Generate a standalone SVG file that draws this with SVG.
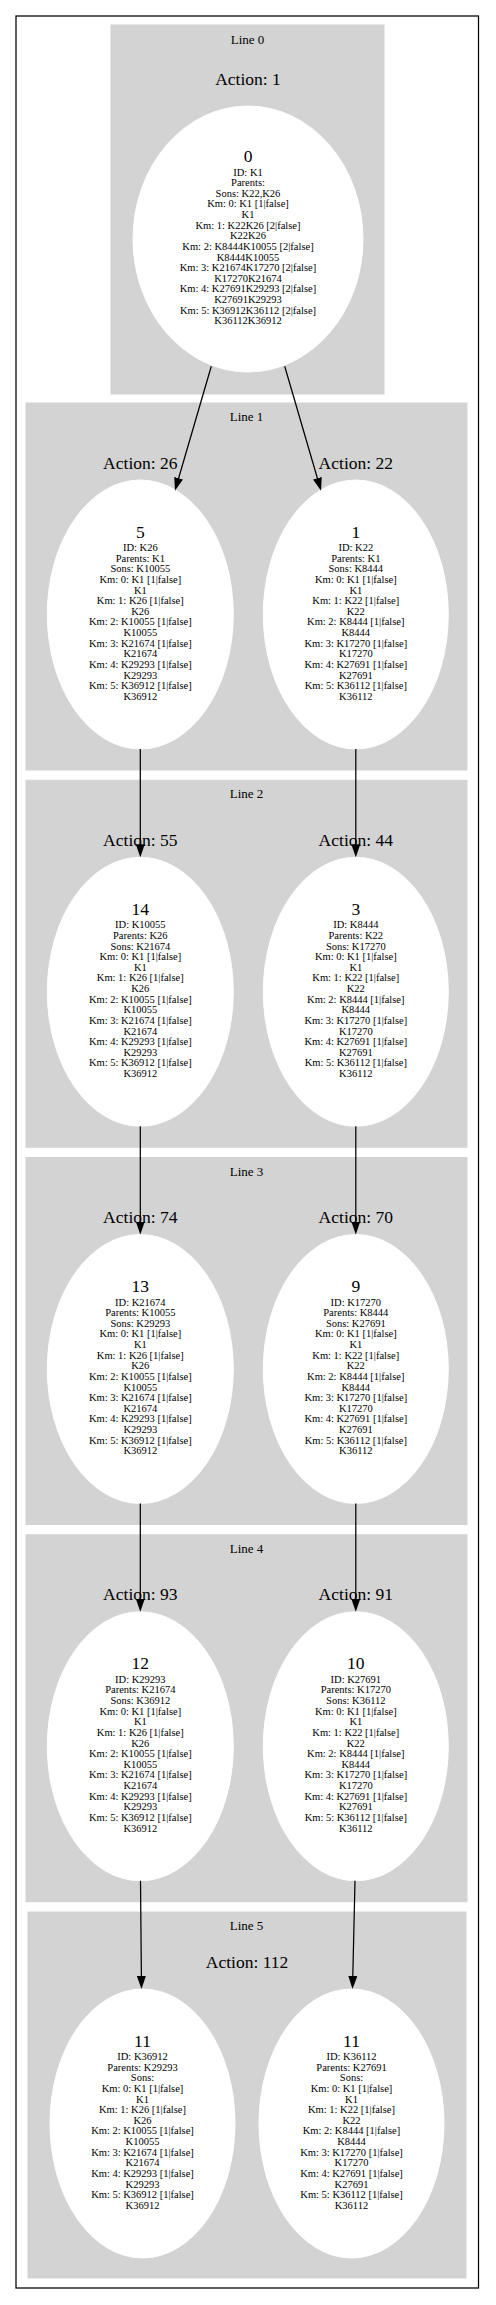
<svg xmlns="http://www.w3.org/2000/svg" width="496" height="2305" viewBox="0 0 496 2305">
<style>
.bg{fill:#fff}
.outer{fill:none;stroke:#000;stroke-width:1.25}
.cl{fill:#d3d3d3;stroke:#d3d3d3}
.nd{fill:#fff;stroke:#fff}
text{font-family:"Liberation Serif","Times New Roman",serif;text-anchor:middle;fill:#000}
.lbl{font-size:13px}
.act{font-size:17.5px}
.num{font-size:17.5px}
.s{font-size:10.5px}
.edge{fill:none;stroke:#000;stroke-width:1.25}
</style>
<defs>
<marker id="ah" markerUnits="userSpaceOnUse" markerWidth="13" markerHeight="9" refX="0" refY="4.5" orient="auto" viewBox="0 0 13 9"><path d="M0,0 L13,4.5 L0,9 z" fill="#000"/></marker>
</defs>
<rect class="bg" x="0" y="0" width="496" height="2305"/>
<rect class="outer" x="16" y="16" width="462.5" height="2272"/>

<g id="cluster_line0">
<rect class="cl" x="111" y="25" width="273" height="369"/>
<text class="lbl" x="247.5" y="43.5">Line 0</text>
<text class="act" x="248" y="84.7">Action: 1</text>
</g>
<g id="cluster_line1">
<rect class="cl" x="26" y="403" width="441" height="367"/>
<text class="lbl" x="246.5" y="421">Line 1</text>
<text class="act" x="140.3" y="468.5">Action: 26</text>
<text class="act" x="355.8" y="468.5">Action: 22</text>
</g>
<g id="cluster_line2">
<rect class="cl" x="26" y="780.25" width="441" height="367"/>
<text class="lbl" x="246.5" y="798.25">Line 2</text>
<text class="act" x="140.3" y="845.75">Action: 55</text>
<text class="act" x="355.8" y="845.75">Action: 44</text>
</g>
<g id="cluster_line3">
<rect class="cl" x="26" y="1157.5" width="441" height="367"/>
<text class="lbl" x="246.5" y="1175.5">Line 3</text>
<text class="act" x="140.3" y="1223">Action: 74</text>
<text class="act" x="355.8" y="1223">Action: 70</text>
</g>
<g id="cluster_line4">
<rect class="cl" x="26" y="1534.75" width="441" height="367"/>
<text class="lbl" x="246.5" y="1552.75">Line 4</text>
<text class="act" x="140.3" y="1600.25">Action: 93</text>
<text class="act" x="355.8" y="1600.25">Action: 91</text>
</g>
<g id="cluster_line5">
<rect class="cl" x="28" y="1912" width="438" height="366"/>
<text class="lbl" x="246.5" y="1930">Line 5</text>
<text class="act" x="247" y="1968.3">Action: 112</text>
</g>

<g id="node0">
<ellipse class="nd" cx="248" cy="239" rx="115" ry="133"/>
<text class="num" x="248" y="162">0</text>
<text class="s" x="248" y="175.5"><tspan x="248" dy="0">ID: K1</tspan><tspan x="248" dy="10.63">Parents:</tspan><tspan x="248" dy="10.63">Sons: K22,K26</tspan><tspan x="248" dy="10.63">Km: 0: K1 [1|false]</tspan><tspan x="248" dy="10.63">K1</tspan><tspan x="248" dy="10.63">Km: 1: K22K26 [2|false]</tspan><tspan x="248" dy="10.63">K22K26</tspan><tspan x="248" dy="10.63">Km: 2: K8444K10055 [2|false]</tspan><tspan x="248" dy="10.63">K8444K10055</tspan><tspan x="248" dy="10.63">Km: 3: K21674K17270 [2|false]</tspan><tspan x="248" dy="10.63">K17270K21674</tspan><tspan x="248" dy="10.63">Km: 4: K27691K29293 [2|false]</tspan><tspan x="248" dy="10.63">K27691K29293</tspan><tspan x="248" dy="10.63">Km: 5: K36912K36112 [2|false]</tspan><tspan x="248" dy="10.63">K36112K36912</tspan></text>
</g>

<g id="node5">
<ellipse class="nd" cx="140.3" cy="614.5" rx="93" ry="134.5"/>
<text class="num" x="140.3" y="537.5">5</text>
<text class="s" x="140.3" y="551"><tspan x="140.3" dy="0">ID: K26</tspan><tspan x="140.3" dy="10.63">Parents: K1</tspan><tspan x="140.3" dy="10.63">Sons: K10055</tspan><tspan x="140.3" dy="10.63">Km: 0: K1 [1|false]</tspan><tspan x="140.3" dy="10.63">K1</tspan><tspan x="140.3" dy="10.63">Km: 1: K26 [1|false]</tspan><tspan x="140.3" dy="10.63">K26</tspan><tspan x="140.3" dy="10.63">Km: 2: K10055 [1|false]</tspan><tspan x="140.3" dy="10.63">K10055</tspan><tspan x="140.3" dy="10.63">Km: 3: K21674 [1|false]</tspan><tspan x="140.3" dy="10.63">K21674</tspan><tspan x="140.3" dy="10.63">Km: 4: K29293 [1|false]</tspan><tspan x="140.3" dy="10.63">K29293</tspan><tspan x="140.3" dy="10.63">Km: 5: K36912 [1|false]</tspan><tspan x="140.3" dy="10.63">K36912</tspan></text>
</g>

<g id="node1">
<ellipse class="nd" cx="355.8" cy="614.5" rx="92.5" ry="134.5"/>
<text class="num" x="355.8" y="537.5">1</text>
<text class="s" x="355.8" y="551"><tspan x="355.8" dy="0">ID: K22</tspan><tspan x="355.8" dy="10.63">Parents: K1</tspan><tspan x="355.8" dy="10.63">Sons: K8444</tspan><tspan x="355.8" dy="10.63">Km: 0: K1 [1|false]</tspan><tspan x="355.8" dy="10.63">K1</tspan><tspan x="355.8" dy="10.63">Km: 1: K22 [1|false]</tspan><tspan x="355.8" dy="10.63">K22</tspan><tspan x="355.8" dy="10.63">Km: 2: K8444 [1|false]</tspan><tspan x="355.8" dy="10.63">K8444</tspan><tspan x="355.8" dy="10.63">Km: 3: K17270 [1|false]</tspan><tspan x="355.8" dy="10.63">K17270</tspan><tspan x="355.8" dy="10.63">Km: 4: K27691 [1|false]</tspan><tspan x="355.8" dy="10.63">K27691</tspan><tspan x="355.8" dy="10.63">Km: 5: K36112 [1|false]</tspan><tspan x="355.8" dy="10.63">K36112</tspan></text>
</g>

<g id="node14">
<ellipse class="nd" cx="140.3" cy="991.75" rx="93" ry="134.5"/>
<text class="num" x="140.3" y="914.75">14</text>
<text class="s" x="140.3" y="928.25"><tspan x="140.3" dy="0">ID: K10055</tspan><tspan x="140.3" dy="10.63">Parents: K26</tspan><tspan x="140.3" dy="10.63">Sons: K21674</tspan><tspan x="140.3" dy="10.63">Km: 0: K1 [1|false]</tspan><tspan x="140.3" dy="10.63">K1</tspan><tspan x="140.3" dy="10.63">Km: 1: K26 [1|false]</tspan><tspan x="140.3" dy="10.63">K26</tspan><tspan x="140.3" dy="10.63">Km: 2: K10055 [1|false]</tspan><tspan x="140.3" dy="10.63">K10055</tspan><tspan x="140.3" dy="10.63">Km: 3: K21674 [1|false]</tspan><tspan x="140.3" dy="10.63">K21674</tspan><tspan x="140.3" dy="10.63">Km: 4: K29293 [1|false]</tspan><tspan x="140.3" dy="10.63">K29293</tspan><tspan x="140.3" dy="10.63">Km: 5: K36912 [1|false]</tspan><tspan x="140.3" dy="10.63">K36912</tspan></text>
</g>

<g id="node3">
<ellipse class="nd" cx="355.8" cy="991.75" rx="92.5" ry="134.5"/>
<text class="num" x="355.8" y="914.75">3</text>
<text class="s" x="355.8" y="928.25"><tspan x="355.8" dy="0">ID: K8444</tspan><tspan x="355.8" dy="10.63">Parents: K22</tspan><tspan x="355.8" dy="10.63">Sons: K17270</tspan><tspan x="355.8" dy="10.63">Km: 0: K1 [1|false]</tspan><tspan x="355.8" dy="10.63">K1</tspan><tspan x="355.8" dy="10.63">Km: 1: K22 [1|false]</tspan><tspan x="355.8" dy="10.63">K22</tspan><tspan x="355.8" dy="10.63">Km: 2: K8444 [1|false]</tspan><tspan x="355.8" dy="10.63">K8444</tspan><tspan x="355.8" dy="10.63">Km: 3: K17270 [1|false]</tspan><tspan x="355.8" dy="10.63">K17270</tspan><tspan x="355.8" dy="10.63">Km: 4: K27691 [1|false]</tspan><tspan x="355.8" dy="10.63">K27691</tspan><tspan x="355.8" dy="10.63">Km: 5: K36112 [1|false]</tspan><tspan x="355.8" dy="10.63">K36112</tspan></text>
</g>

<g id="node13">
<ellipse class="nd" cx="140.3" cy="1369" rx="93" ry="134.5"/>
<text class="num" x="140.3" y="1292">13</text>
<text class="s" x="140.3" y="1305.5"><tspan x="140.3" dy="0">ID: K21674</tspan><tspan x="140.3" dy="10.63">Parents: K10055</tspan><tspan x="140.3" dy="10.63">Sons: K29293</tspan><tspan x="140.3" dy="10.63">Km: 0: K1 [1|false]</tspan><tspan x="140.3" dy="10.63">K1</tspan><tspan x="140.3" dy="10.63">Km: 1: K26 [1|false]</tspan><tspan x="140.3" dy="10.63">K26</tspan><tspan x="140.3" dy="10.63">Km: 2: K10055 [1|false]</tspan><tspan x="140.3" dy="10.63">K10055</tspan><tspan x="140.3" dy="10.63">Km: 3: K21674 [1|false]</tspan><tspan x="140.3" dy="10.63">K21674</tspan><tspan x="140.3" dy="10.63">Km: 4: K29293 [1|false]</tspan><tspan x="140.3" dy="10.63">K29293</tspan><tspan x="140.3" dy="10.63">Km: 5: K36912 [1|false]</tspan><tspan x="140.3" dy="10.63">K36912</tspan></text>
</g>

<g id="node9">
<ellipse class="nd" cx="355.8" cy="1369" rx="92.5" ry="134.5"/>
<text class="num" x="355.8" y="1292">9</text>
<text class="s" x="355.8" y="1305.5"><tspan x="355.8" dy="0">ID: K17270</tspan><tspan x="355.8" dy="10.63">Parents: K8444</tspan><tspan x="355.8" dy="10.63">Sons: K27691</tspan><tspan x="355.8" dy="10.63">Km: 0: K1 [1|false]</tspan><tspan x="355.8" dy="10.63">K1</tspan><tspan x="355.8" dy="10.63">Km: 1: K22 [1|false]</tspan><tspan x="355.8" dy="10.63">K22</tspan><tspan x="355.8" dy="10.63">Km: 2: K8444 [1|false]</tspan><tspan x="355.8" dy="10.63">K8444</tspan><tspan x="355.8" dy="10.63">Km: 3: K17270 [1|false]</tspan><tspan x="355.8" dy="10.63">K17270</tspan><tspan x="355.8" dy="10.63">Km: 4: K27691 [1|false]</tspan><tspan x="355.8" dy="10.63">K27691</tspan><tspan x="355.8" dy="10.63">Km: 5: K36112 [1|false]</tspan><tspan x="355.8" dy="10.63">K36112</tspan></text>
</g>

<g id="node12">
<ellipse class="nd" cx="140.3" cy="1746.25" rx="93" ry="134.5"/>
<text class="num" x="140.3" y="1669.25">12</text>
<text class="s" x="140.3" y="1682.75"><tspan x="140.3" dy="0">ID: K29293</tspan><tspan x="140.3" dy="10.63">Parents: K21674</tspan><tspan x="140.3" dy="10.63">Sons: K36912</tspan><tspan x="140.3" dy="10.63">Km: 0: K1 [1|false]</tspan><tspan x="140.3" dy="10.63">K1</tspan><tspan x="140.3" dy="10.63">Km: 1: K26 [1|false]</tspan><tspan x="140.3" dy="10.63">K26</tspan><tspan x="140.3" dy="10.63">Km: 2: K10055 [1|false]</tspan><tspan x="140.3" dy="10.63">K10055</tspan><tspan x="140.3" dy="10.63">Km: 3: K21674 [1|false]</tspan><tspan x="140.3" dy="10.63">K21674</tspan><tspan x="140.3" dy="10.63">Km: 4: K29293 [1|false]</tspan><tspan x="140.3" dy="10.63">K29293</tspan><tspan x="140.3" dy="10.63">Km: 5: K36912 [1|false]</tspan><tspan x="140.3" dy="10.63">K36912</tspan></text>
</g>

<g id="node10">
<ellipse class="nd" cx="355.8" cy="1746.25" rx="92.5" ry="134.5"/>
<text class="num" x="355.8" y="1669.25">10</text>
<text class="s" x="355.8" y="1682.75"><tspan x="355.8" dy="0">ID: K27691</tspan><tspan x="355.8" dy="10.63">Parents: K17270</tspan><tspan x="355.8" dy="10.63">Sons: K36112</tspan><tspan x="355.8" dy="10.63">Km: 0: K1 [1|false]</tspan><tspan x="355.8" dy="10.63">K1</tspan><tspan x="355.8" dy="10.63">Km: 1: K22 [1|false]</tspan><tspan x="355.8" dy="10.63">K22</tspan><tspan x="355.8" dy="10.63">Km: 2: K8444 [1|false]</tspan><tspan x="355.8" dy="10.63">K8444</tspan><tspan x="355.8" dy="10.63">Km: 3: K17270 [1|false]</tspan><tspan x="355.8" dy="10.63">K17270</tspan><tspan x="355.8" dy="10.63">Km: 4: K27691 [1|false]</tspan><tspan x="355.8" dy="10.63">K27691</tspan><tspan x="355.8" dy="10.63">Km: 5: K36112 [1|false]</tspan><tspan x="355.8" dy="10.63">K36112</tspan></text>
</g>

<g id="node11a">
<ellipse class="nd" cx="142.5" cy="2123.5" rx="92.5" ry="134.5"/>
<text class="num" x="142.5" y="2046.5">11</text>
<text class="s" x="142.5" y="2060"><tspan x="142.5" dy="0">ID: K36912</tspan><tspan x="142.5" dy="10.63">Parents: K29293</tspan><tspan x="142.5" dy="10.63">Sons:</tspan><tspan x="142.5" dy="10.63">Km: 0: K1 [1|false]</tspan><tspan x="142.5" dy="10.63">K1</tspan><tspan x="142.5" dy="10.63">Km: 1: K26 [1|false]</tspan><tspan x="142.5" dy="10.63">K26</tspan><tspan x="142.5" dy="10.63">Km: 2: K10055 [1|false]</tspan><tspan x="142.5" dy="10.63">K10055</tspan><tspan x="142.5" dy="10.63">Km: 3: K21674 [1|false]</tspan><tspan x="142.5" dy="10.63">K21674</tspan><tspan x="142.5" dy="10.63">Km: 4: K29293 [1|false]</tspan><tspan x="142.5" dy="10.63">K29293</tspan><tspan x="142.5" dy="10.63">Km: 5: K36912 [1|false]</tspan><tspan x="142.5" dy="10.63">K36912</tspan></text>
</g>

<g id="node11b">
<ellipse class="nd" cx="351.5" cy="2123.5" rx="92.5" ry="134.5"/>
<text class="num" x="351.5" y="2046.5">11</text>
<text class="s" x="351.5" y="2060"><tspan x="351.5" dy="0">ID: K36112</tspan><tspan x="351.5" dy="10.63">Parents: K27691</tspan><tspan x="351.5" dy="10.63">Sons:</tspan><tspan x="351.5" dy="10.63">Km: 0: K1 [1|false]</tspan><tspan x="351.5" dy="10.63">K1</tspan><tspan x="351.5" dy="10.63">Km: 1: K22 [1|false]</tspan><tspan x="351.5" dy="10.63">K22</tspan><tspan x="351.5" dy="10.63">Km: 2: K8444 [1|false]</tspan><tspan x="351.5" dy="10.63">K8444</tspan><tspan x="351.5" dy="10.63">Km: 3: K17270 [1|false]</tspan><tspan x="351.5" dy="10.63">K17270</tspan><tspan x="351.5" dy="10.63">Km: 4: K27691 [1|false]</tspan><tspan x="351.5" dy="10.63">K27691</tspan><tspan x="351.5" dy="10.63">Km: 5: K36112 [1|false]</tspan><tspan x="351.5" dy="10.63">K36112</tspan></text>
</g>

<g id="edges">
<path class="edge" marker-end="url(#ah)" d="M211.3,366.3 L178.6,478.2"/>
<path class="edge" marker-end="url(#ah)" d="M284.7,366.3 L317.4,478.2"/>
<path class="edge" marker-end="url(#ah)" d="M140.3,749 L140.3,844.25"/>
<path class="edge" marker-end="url(#ah)" d="M355.8,749 L355.8,844.25"/>
<path class="edge" marker-end="url(#ah)" d="M140.3,1126.25 L140.3,1221.5"/>
<path class="edge" marker-end="url(#ah)" d="M355.8,1126.25 L355.8,1221.5"/>
<path class="edge" marker-end="url(#ah)" d="M140.3,1503.5 L140.3,1598.75"/>
<path class="edge" marker-end="url(#ah)" d="M355.8,1503.5 L355.8,1598.75"/>
<path class="edge" marker-end="url(#ah)" d="M140.5,1880.75 L141.38,1976"/>
<path class="edge" marker-end="url(#ah)" d="M355,1880.75 L352.8,1976"/>
</g>
</svg>
